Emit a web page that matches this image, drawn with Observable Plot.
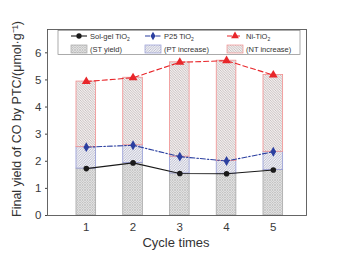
<!DOCTYPE html>
<html>
<head>
<meta charset="utf-8">
<script src="https://cdn.jsdelivr.net/npm/d3@7"></script>
<script src="https://cdn.jsdelivr.net/npm/@observablehq/plot@0.6"></script>
<style>
  html, body { margin: 0; padding: 0; background: #fff; }
  #chart { width: 343px; height: 257px; }
</style>
</head>
<body>
<div id="chart"></div>
<script>
const cycles = [1, 2, 3, 4, 5];
const solgel = [1.73, 1.94, 1.55, 1.54, 1.68];
const p25 = [2.52, 2.59, 2.17, 2.01, 2.35];
const ni = [4.94, 5.08, 5.65, 5.71, 5.18];
const yTicks = [0, 1, 2, 3, 4, 5, 6];
const xLabel = "Cycle times";
const yLabel = "Final yield of CO by PTC/(\u03bcmol\u00b7g\u207b\u00b9)";
const legendLines = [
  {name: "Sol-gel TiO", sub: "2"},
  {name: "P25 TiO", sub: "2"},
  {name: "Ni-TiO", sub: "2"}
];
const legendBars = ["(ST yield)", "(PT increase)", "(NT increase)"];

const rows = cycles.map((c, i) => ({c, s: solgel[i], p: p25[i], n: ni[i]}));
const hw = 0.21;
const font = "'Liberation Sans', Arial, sans-serif";

const cBlack = "#1a1a1a", cBlue = "#2b3fa0", cRed = "#e8262a";
const fmt = d3.format("d");

const plot = Plot.plot({
  width: 343,
  height: 257,
  marginLeft: 47,
  marginRight: 37,
  marginTop: 29,
  marginBottom: 42,
  style: {fontFamily: font, fontSize: "11px", color: "#3a3a3a", background: "#fff"},
  x: {domain: [0.17, 5.71], ticks: cycles, label: null},
  y: {domain: [0, 6.86], ticks: yTicks, label: null},
  marks: [
    Plot.rect(rows, {x1: d => d.c - hw, x2: d => d.c + hw, y1: 0, y2: "s", fill: "url(#pST)", stroke: "#a8a8a8", strokeWidth: 0.8}),
    Plot.rect(rows, {x1: d => d.c - hw, x2: d => d.c + hw, y1: "s", y2: "p", fill: "url(#pPT)", stroke: "#949ad4", strokeWidth: 0.8}),
    Plot.rect(rows, {x1: d => d.c - hw, x2: d => d.c + hw, y1: "p", y2: "n", fill: "url(#pNT)", stroke: "#f29090", strokeWidth: 0.8}),
    Plot.line(rows, {x: "c", y: "s", stroke: cBlack, strokeWidth: 1.1}),
    Plot.line(rows, {x: "c", y: "p", stroke: cBlue, strokeWidth: 1.1, strokeDasharray: "5,2,1.5,2"}),
    Plot.line(rows, {x: "c", y: "n", stroke: cRed, strokeWidth: 1.1, strokeDasharray: "5,3"}),
    Plot.dot(rows, {x: "c", y: "s", symbol: "circle", r: 2.8, fill: cBlack}),
    Plot.dot(rows, {x: "c", y: "p", symbol: "diamond", r: 3.0, fill: cBlue}),
    Plot.dot(rows, {x: "c", y: "n", symbol: "triangle", r: 3.3, fill: cRed}),
    Plot.axisY({ticks: yTicks, tickFormat: fmt, tickSize: 2, tickPadding: 4, fontSize: 11.5, label: null, stroke: "#444"}),
    Plot.axisX({ticks: cycles, tickFormat: fmt, tickSize: 0, tickPadding: 7, fontSize: 11.5, label: null}),
    Plot.frame({stroke: "#555", strokeWidth: 0.9})
  ]
});

const svg = d3.select(plot);
const defs = svg.insert("defs", ":first-child");
const pST = defs.append("pattern").attr("id", "pST").attr("patternUnits", "userSpaceOnUse").attr("width", 2.5).attr("height", 2.5);
pST.append("rect").attr("width", 2.5).attr("height", 2.5).attr("fill", "#eeeeee");
pST.append("path").attr("d", "M0,0L2.5,2.5M2.5,0L0,2.5").attr("stroke", "#a4a4a4").attr("stroke-width", 0.5);
const pPT = defs.append("pattern").attr("id", "pPT").attr("patternUnits", "userSpaceOnUse").attr("width", 2.5).attr("height", 2.5);
pPT.append("rect").attr("width", 2.5).attr("height", 2.5).attr("fill", "#f0f0f6");
pPT.append("path").attr("d", "M-1,1L1,-1M0,2.5L2.5,0M1.5,3.5L3.5,1.5").attr("stroke", "#9698ae").attr("stroke-width", 0.55);
const pNT = defs.append("pattern").attr("id", "pNT").attr("patternUnits", "userSpaceOnUse").attr("width", 2.5).attr("height", 2.5);
pNT.append("rect").attr("width", 2.5).attr("height", 2.5).attr("fill", "#f4efef");
pNT.append("path").attr("d", "M-1,1.5L1,3.5M0,0L2.5,2.5M1.5,-1L3.5,1").attr("stroke", "#a49c9c").attr("stroke-width", 0.55);

// Legend box
const lg = svg.append("g").attr("font-family", font).attr("font-size", 7.5).attr("fill", "#333").attr("text-anchor", "start");
lg.append("rect").attr("x", 58).attr("y", 30.5).attr("width", 242).attr("height", 24).attr("fill", "#fff").attr("stroke", "#888").attr("stroke-width", 0.7);
const colX = [71, 145, 227];
const lineStyles = [
  {stroke: cBlack, dash: null, sym: d3.symbolCircle, size: 22},
  {stroke: cBlue, dash: "5,2,1.5,2", sym: d3.symbolDiamond, size: 22},
  {stroke: cRed, dash: "5,3", sym: d3.symbolTriangle, size: 26}
];
const patIds = ["pST", "pPT", "pNT"];
const patStroke = ["#a8a8a8", "#949ad4", "#f29090"];
legendLines.forEach((L, i) => {
  const x = colX[i], y = 36;
  lg.append("line").attr("x1", x).attr("x2", x + 16).attr("y1", y).attr("y2", y)
    .attr("stroke", lineStyles[i].stroke).attr("stroke-width", 1.1).attr("stroke-dasharray", lineStyles[i].dash);
  lg.append("path").attr("d", d3.symbol(lineStyles[i].sym, lineStyles[i].size)()).attr("transform", `translate(${x + 8},${y})`).attr("fill", lineStyles[i].stroke);
  const t = lg.append("text").attr("x", x + 19).attr("y", y + 2.6);
  t.append("tspan").text(L.name);
  t.append("tspan").attr("font-size", 5).attr("dy", 2).text(L.sub);
  const y2 = 49;
  lg.append("rect").attr("x", x).attr("y", y2 - 4).attr("width", 16).attr("height", 8)
    .attr("fill", `url(#${patIds[i]})`).attr("stroke", patStroke[i]).attr("stroke-width", 0.7);
  lg.append("text").attr("x", x + 19).attr("y", y2 + 2.6).text(legendBars[i]);
});

// Axis titles
svg.append("text").attr("x", 176).attr("y", 247).attr("text-anchor", "middle")
  .attr("font-family", font).attr("font-size", 13).attr("fill", "#333").text(xLabel);
svg.append("text").attr("transform", "translate(21,119) rotate(-90)").attr("text-anchor", "middle")
  .attr("font-family", font).attr("font-size", 12.5).attr("fill", "#333").text(yLabel);

document.getElementById("chart").appendChild(plot);
</script>
</body>
</html>
